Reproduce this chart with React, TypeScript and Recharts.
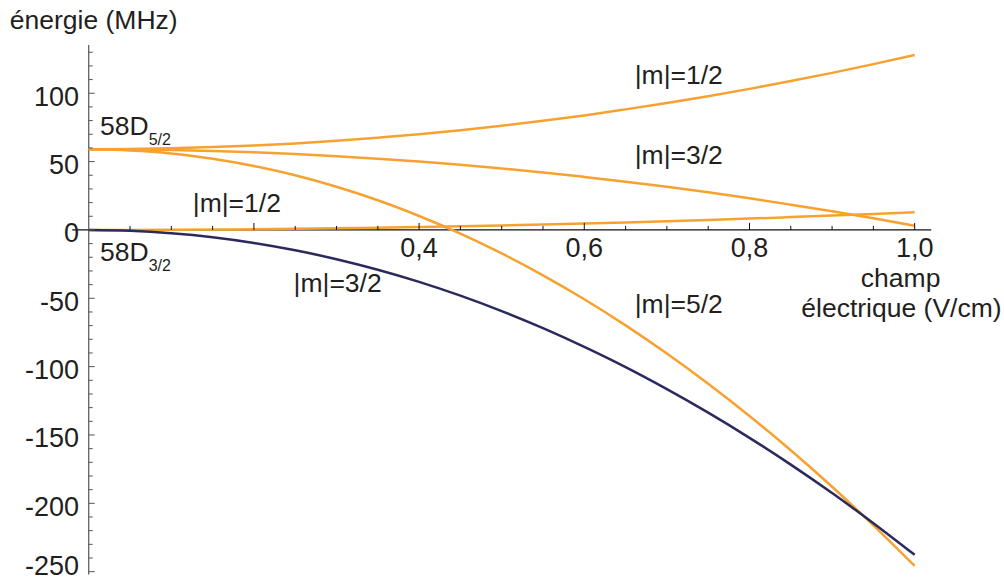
import React from 'react';
import { LineChart, Line, XAxis, YAxis, ReferenceLine, ReferenceDot } from 'recharts';

// electric field (V/cm)
const FIELD = [0, 0.05, 0.1, 0.15, 0.2, 0.25, 0.3, 0.35, 0.4, 0.45, 0.5, 0.55, 0.6, 0.65, 0.7, 0.75, 0.8, 0.85, 0.9, 0.95, 1.0];

// 58D5/2 sublevels (MHz)
const D52_M12 = [59, 59.2, 59.7, 60.6, 61.8, 63.3, 65.2, 67.5, 70.0, 73.0, 76.3, 79.9, 83.8, 88.2, 92.8, 97.8, 103.2, 108.9, 114.9, 121.3, 128];
const D52_M32 = [59, 58.9, 58.4, 57.7, 56.8, 55.5, 54.0, 52.1, 50.0, 47.7, 45.0, 42.1, 38.8, 35.3, 31.6, 27.5, 23.2, 18.5, 13.6, 8.5, 3];
const D52_M52 = [59, 58.2, 56.0, 52.1, 46.8, 40.0, 31.6, 21.7, 10.2, -2.7, -17.2, -33.2, -50.7, -69.8, -90.4, -112.5, -136.1, -161.2, -187.9, -216.1, -245.8];

// 58D3/2 sublevels (MHz)
const D32_M12 = [0, 0.03, 0.13, 0.29, 0.52, 0.81, 1.17, 1.59, 2.08, 2.63, 3.25, 3.93, 4.68, 5.49, 6.37, 7.31, 8.32, 9.39, 10.53, 11.73, 13];
const D32_M32 = [0, -0.6, -2.4, -5.3, -9.5, -14.9, -21.4, -29.1, -38.0, -48.1, -59.4, -71.9, -85.6, -100.4, -116.5, -133.7, -152.1, -171.7, -192.5, -214.5, -237.7];

const X_LABELS = [0.4, 0.6, 0.8, 1.0];
const Y_LABELS = [100, 50, 0, -50, -100, -150, -200, -250];

const X_TICKS = Array.from({ length: 20 }, (_, i) => +((i + 1) * 0.05).toFixed(2));
const Y_TICKS = Array.from({ length: 39 }, (_, i) => -250 + i * 10);

const ORANGE = '#f7a230';
const NAVY = '#2b2a5e';
const INK = '#231f20';
const FONT = '"Liberation Sans", Arial, sans-serif';

const data = FIELD.map((f, i) => ({
  f,
  a: D52_M12[i],
  b: D52_M32[i],
  c: D52_M52[i],
  d: D32_M12[i],
  e: D32_M32[i],
}));

const fmt = (v: number) => v.toFixed(1).replace('.', ',');

// text anchored at a point in data space
const note = (key: string, x: number, y: number, text: string, anchor = 'start', sub?: string) => (
  <ReferenceDot
    key={key}
    x={x}
    y={y}
    r={0}
    ifOverflow="visible"
    shape={(p: any) => (
      <text x={p.cx} y={p.cy} textAnchor={anchor} fill={INK} fontSize={26.5} fontFamily={FONT}>
        {text}
        {sub && (
          <tspan fontSize={16} dy={10}>
            {sub}
          </tspan>
        )}
      </text>
    )}
  />
);

export default function App() {
  return (
    <div style={{ position: 'absolute', left: 0, top: 0, width: 1004, height: 582, background: '#fff' }}>
      <LineChart
        width={1004}
        height={582}
        data={data}
        margin={{ top: 45, right: 72.8, bottom: 7.6, left: 72.2 }}
      >
        <XAxis dataKey="f" type="number" domain={[-0.02, 1.02]} allowDataOverflow hide />
        <YAxis type="number" domain={[-252, 135.3]} allowDataOverflow hide />

        <ReferenceLine x={0} stroke="#555" strokeWidth={1.2} />
        <ReferenceLine y={0} stroke="#111" strokeWidth={1.2} />

        {Y_TICKS.map((v) => (
          <ReferenceDot
            key={`yt${v}`}
            x={0}
            y={v}
            r={0}
            shape={(p: any) => (
              <line x1={p.cx} y1={p.cy} x2={p.cx + (v % 50 === 0 ? 6 : 4)} y2={p.cy} stroke="#555" strokeWidth={1} />
            )}
          />
        ))}
        {Y_LABELS.map((v) => (
          <ReferenceDot
            key={`yl${v}`}
            x={0}
            y={v}
            r={0}
            ifOverflow="visible"
            shape={(p: any) => (
              // the bottom label is pulled up so it stays inside the frame
              <text x={p.cx - 9.7} y={Math.min(p.cy + 12.5, 575)} textAnchor="end" fill={INK} fontSize={27} fontFamily={FONT}>
                {v}
              </text>
            )}
          />
        ))}
        {X_TICKS.map((v) => (
          <ReferenceDot
            key={`xt${v}`}
            x={v}
            y={0}
            r={0}
            shape={(p: any) => (
              <line x1={p.cx} y1={p.cy} x2={p.cx} y2={p.cy - (Math.round(v * 100) % 20 === 0 ? 7 : 4)} stroke="#111" strokeWidth={1} />
            )}
          />
        ))}
        {X_LABELS.map((v) => (
          <ReferenceDot
            key={`xl${v}`}
            x={v}
            y={0}
            r={0}
            ifOverflow="visible"
            shape={(p: any) => (
              <text x={p.cx} y={p.cy + 27} textAnchor="middle" fill={INK} fontSize={27} fontFamily={FONT}>
                {fmt(v)}
              </text>
            )}
          />
        ))}

        <Line dataKey="a" type="monotone" stroke={ORANGE} strokeWidth={2.5} dot={false} isAnimationActive={false} />
        <Line dataKey="b" type="monotone" stroke={ORANGE} strokeWidth={2.5} dot={false} isAnimationActive={false} />
        <Line dataKey="c" type="monotone" stroke={ORANGE} strokeWidth={2.5} dot={false} isAnimationActive={false} />
        <Line dataKey="d" type="monotone" stroke={ORANGE} strokeWidth={2.5} dot={false} isAnimationActive={false} />
        <Line dataKey="e" type="monotone" stroke={NAVY} strokeWidth={2.5} dot={false} isAnimationActive={false} />

        {note('n1', 0.661, 106.8, '|m|=1/2')}
        {note('n2', 0.661, 48.3, '|m|=3/2')}
        {note('n3', 0.661, -60.9, '|m|=5/2')}
        {note('n4', 0.126, 13.4, '|m|=1/2')}
        {note('n5', 0.248, -45.1, '|m|=3/2')}
        {note('n6', 0.0137, 69.5, '58D', 'start', '5/2')}
        {note('n7', 0.0137, -22.7, '58D', 'start', '3/2')}
        {note('n8', 0.983, -41.9, 'champ', 'middle')}
        {note('n9', 0.984, -63.4, 'électrique (V/cm)', 'middle')}
        {note('n10', -0.0956, 146.8, 'énergie (MHz)')}
      </LineChart>
    </div>
  );
}
